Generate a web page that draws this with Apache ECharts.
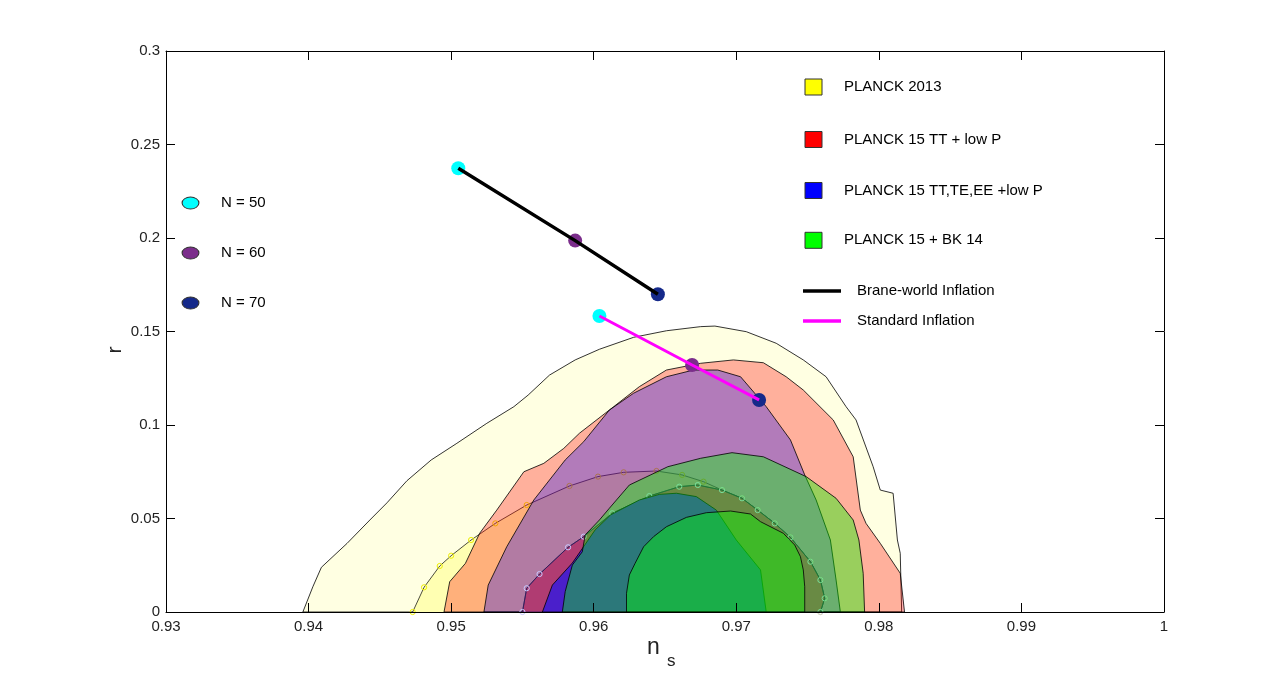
<!DOCTYPE html>
<html>
<head>
<meta charset="utf-8">
<script src="https://cdn.jsdelivr.net/npm/echarts@6/dist/echarts.min.js"></script>
<style>
  html, body { margin: 0; padding: 0; background: #fff; }
  #chart { width: 1286px; height: 688px; }
</style>
</head>
<body>
<div id="chart"></div>
<script>
// axis ticks
var xTicks = [0.93, 0.94, 0.95, 0.96, 0.97, 0.98, 0.99, 1];
var yTicks = [0, 0.05, 0.1, 0.15, 0.2, 0.25, 0.3];

// contour outlines [n_s, r]
var planck13Outer = [[0.9396,0],[0.9403,0.0135],[0.9409,0.0239],[0.9427,0.0367],[0.9443,0.0492],[0.9455,0.0584],
  [0.9469,0.0702],[0.9486,0.0813],[0.9504,0.0902],[0.9525,0.1009],[0.9544,0.1098],[0.9554,0.1160],[0.9569,0.1267],
  [0.9587,0.1348],[0.9604,0.1405],[0.9628,0.1469],[0.9651,0.1504],[0.9675,0.1526],[0.9685,0.1529],[0.9707,0.1499],
  [0.9728,0.1437],[0.9747,0.1348],[0.9763,0.1258],[0.9777,0.1098],[0.9784,0.1027],[0.9796,0.0777],[0.9801,0.0652],
  [0.9810,0.0635],[0.9813,0.0385],[0.9815,0.0314],[0.9816,0]];
var planck13Inner = [[0.9473,0],[0.9481,0.0132],[0.9492,0.0246],[0.9500,0.0301],[0.9514,0.0385],[0.9531,0.0474],
  [0.9553,0.0572],[0.9583,0.0674],[0.9603,0.0724],[0.9621,0.0747],[0.9644,0.0754],[0.9662,0.0733],[0.9677,0.0697],
  [0.9690,0.0652],[0.9704,0.0608],[0.9715,0.0545],[0.9727,0.0474],[0.9738,0.0399],[0.9752,0.0269],[0.9759,0.0171],
  [0.9762,0.0073],[0.9759,0]];
var ttOuter = [[0.9495,0],[0.9499,0.0162],[0.9510,0.0260],[0.9520,0.0421],[0.9532,0.0545],[0.9551,0.0750],
  [0.9565,0.0795],[0.9579,0.0875],[0.9590,0.0956],[0.9614,0.1098],[0.9632,0.1205],[0.9651,0.1294],[0.9675,0.1330],
  [0.9698,0.1348],[0.9719,0.1333],[0.9735,0.1258],[0.9747,0.1187],[0.9768,0.1027],[0.9782,0.0830],[0.9787,0.0545],
  [0.9791,0.0474],[0.9801,0.0367],[0.9815,0.0207],[0.9818,0]];
var teeeOuter = [[0.9523,0],[0.9526,0.0144],[0.9539,0.0349],[0.9558,0.0599],[0.9580,0.0813],[0.9593,0.0911],
  [0.9611,0.1080],[0.9628,0.1170],[0.9651,0.1258],[0.9670,0.1294],[0.9687,0.1294],[0.9703,0.1258],[0.9721,0.1098],
  [0.9738,0.0920],[0.9748,0.0733],[0.9756,0.0599],[0.9766,0.0385],[0.9770,0.0171],[0.9773,0]];
var ttInner = [[0.9550,0],[0.9553,0.0127],[0.9562,0.0203],[0.9582,0.0346],[0.9593,0.0403],[0.9613,0.0528],
  [0.9639,0.0620],[0.9660,0.0670],[0.9673,0.0679],[0.9690,0.0652],[0.9704,0.0608],[0.9715,0.0545],[0.9727,0.0474],
  [0.9738,0.0399],[0.9752,0.0269],[0.9759,0.0171],[0.9762,0.0073],[0.9759,0]];
var teeeInner = [[0.9564,0],[0.9571,0.0144],[0.9585,0.0262],[0.9601,0.0439],[0.9612,0.0520],[0.9632,0.0599],
  [0.9646,0.0629],[0.9658,0.0635],[0.9672,0.0617],[0.9686,0.0545],[0.9700,0.0385],[0.9717,0.0225],[0.9721,0]];
var bkOuter = [[0.9578,0],[0.9580,0.0109],[0.9585,0.0251],[0.9592,0.0322],[0.9594,0.0412],[0.9604,0.0492],
  [0.9611,0.0555],[0.9625,0.0679],[0.9652,0.0777],[0.9675,0.0822],[0.9697,0.0852],[0.9719,0.0830],[0.9749,0.0724],
  [0.9770,0.0608],[0.9782,0.0492],[0.9786,0.0385],[0.9789,0.0207],[0.9790,0]];
var bkInner = [[0.9623,0],[0.9623,0.0100],[0.9625,0.0198],[0.9629,0.0260],[0.9635,0.0349],[0.9642,0.0403],
  [0.9651,0.0456],[0.9665,0.0506],[0.9679,0.0531],[0.9696,0.0540],[0.9710,0.0524],[0.9717,0.0483],[0.9733,0.0421],
  [0.9741,0.0358],[0.9745,0.0296],[0.9747,0.0225],[0.9748,0.0135],[0.9748,0]];

// model predictions for N = 50, 60, 70
var nLabels = ['N = 50', 'N = 60', 'N = 70'];
var nColors = ['#00FFFF', '#7B2D8B', '#15298A'];
var braneNs = [0.9505, 0.9587, 0.9645];
var braneR = [0.2373, 0.1986, 0.1699];
var stdNs = [0.9604, 0.9669, 0.9716];
var stdR = [0.1583, 0.1321, 0.1134];

var legendNames = ['PLANCK 2013', 'PLANCK 15 TT + low P', 'PLANCK 15 TT,TE,EE +low P', 'PLANCK 15 + BK 14'];
var legendColors = ['#FFFF00', '#FF0000', '#0000FF', '#00FF00'];
var lineNames = ['Brane-world Inflation', 'Standard Inflation'];
var lineColors = ['#000000', '#FF00FF'];

var FONT = 'Liberation Sans, Arial, Helvetica, sans-serif';

function area(name, pts, fill, stroke, z, markColor) {
  return {
    type: 'custom', name: name, z: z, silent: true,
    data: pts, encode: { x: 0, y: 1 },
    renderItem: function (params, api) {
      if (params.dataIndex !== 0) return;
      var c = pts.map(function (p) { return api.coord(p); });
      var kids = [];
      if (fill) {
        kids.push({ type: 'polygon', shape: { points: c },
          style: { fill: fill, stroke: markColor ? null : stroke, lineWidth: 0.8 } });
      }
      if (markColor) {
        kids.push({ type: 'polyline', shape: { points: c }, style: { fill: null, stroke: stroke, lineWidth: 0.7 } });
        c.forEach(function (q) {
          kids.push({ type: 'circle', shape: { cx: q[0], cy: q[1], r: 2.6 },
            style: { fill: null, stroke: markColor, lineWidth: 1 } });
        });
      }
      return { type: 'group', children: kids };
    }
  };
}

function pairs(xs, ys) { return xs.map(function (x, i) { return [x, ys[i]]; }); }

var dotStyle = { opacity: 1, color: function (p) { return nColors[p.dataIndex]; } };

var series = [
  area('y95', planck13Outer, '#FFFFE2', '#000', 2),
  area('y68', planck13Inner, '#FFFFB2', null, 3),
  area('y68edge', planck13Inner, null, '#000', 4, '#EEEE00'),
  area('r95', ttOuter, 'rgba(255,0,0,0.31)', '#000', 5),
  area('b95', teeeOuter, 'rgba(0,0,255,0.3)', '#000', 6),
  area('c1', ttInner, '#B03C72', '#2B1B5A', 7),
  area('c1edge', ttInner, null, '#2B1B5A', 8, '#C8C8FF'),
  area('c2', teeeInner, '#4A1FCB', '#000', 9),
  area('g95', bkOuter, 'rgba(0,255,0,0.4)', '#000', 10),
  area('g68', bkInner, 'rgba(0,255,0,0.4)', '#000', 11),
  { type: 'scatter', z: 20, symbolSize: 14, data: pairs(braneNs, braneR), itemStyle: dotStyle },
  { type: 'scatter', z: 20, symbolSize: 14, data: pairs(stdNs, stdR), itemStyle: dotStyle },
  { type: 'line', z: 21, symbol: 'none', data: pairs(braneNs, braneR), lineStyle: { color: lineColors[0], width: 3.5 } },
  { type: 'line', z: 21, symbol: 'none', data: pairs(stdNs, stdR), lineStyle: { color: lineColors[1], width: 3 } }
];

var graphic = [];
legendNames.forEach(function (n, i) {
  var cy = [87, 139.5, 190.5, 240.3][i];
  graphic.push({ type: 'rect', shape: { x: 805, y: cy - 8, width: 17, height: 16 },
    style: { fill: legendColors[i], stroke: '#333', lineWidth: 1 }, z: 100 });
  graphic.push({ type: 'text', x: 844, y: cy, z: 100,
    style: { text: n, fontSize: 15, fontFamily: FONT, fill: '#000', textVerticalAlign: 'middle', verticalAlign: 'middle' } });
});
lineNames.forEach(function (n, i) {
  var cy = [291, 321][i];
  graphic.push({ type: 'line', shape: { x1: 803, y1: cy, x2: 841, y2: cy },
    style: { stroke: lineColors[i], lineWidth: 3.5 }, z: 100 });
  graphic.push({ type: 'text', x: 857, y: cy, z: 100,
    style: { text: n, fontSize: 15, fontFamily: FONT, fill: '#000', textVerticalAlign: 'middle', verticalAlign: 'middle' } });
});
nLabels.forEach(function (n, i) {
  var cy = [203, 253, 303][i];
  graphic.push({ type: 'circle', x: 190.5, y: cy, scaleX: 1.4, shape: { cx: 0, cy: 0, r: 6 },
    style: { fill: nColors[i], stroke: '#333', lineWidth: 0.8 }, z: 100 });
  graphic.push({ type: 'text', x: 221, y: cy, z: 100,
    style: { text: n, fontSize: 15, fontFamily: FONT, fill: '#000', textVerticalAlign: 'middle', verticalAlign: 'middle' } });
});
// axis names
graphic.push({ type: 'text', x: 647, y: 648, z: 100,
  style: { text: 'n', fontSize: 23, fontFamily: FONT, fill: '#222', textVerticalAlign: 'middle', verticalAlign: 'middle' } });
graphic.push({ type: 'text', x: 667, y: 661, z: 100,
  style: { text: 's', fontSize: 17, fontFamily: FONT, fill: '#222', textVerticalAlign: 'middle', verticalAlign: 'middle' } });
graphic.push({ type: 'text', x: 115, y: 350, rotation: Math.PI / 2, z: 100,
  style: { text: 'r', fontSize: 21, fontFamily: FONT, fill: '#222', textAlign: 'center', align: 'center',
    textVerticalAlign: 'middle', verticalAlign: 'middle' } });

function fmt(v) { return String(+v.toFixed(2)); }

var axisBase = {
  type: 'value',
  axisLine: { show: true, onZero: false, lineStyle: { color: '#000', width: 1 } },
  axisTick: { show: true, inside: true, length: 9, lineStyle: { color: '#000' } },
  splitLine: { show: false },
  z: 50
};

var chart = echarts.init(document.getElementById('chart'), null, { renderer: 'canvas' });
chart.setOption({
  animation: false,
  backgroundColor: '#fff',
  grid: { left: 166, right: 122, top: 51, bottom: 76 },
  xAxis: [
    Object.assign({}, axisBase, {
      position: 'bottom', min: xTicks[0], max: xTicks[xTicks.length - 1], interval: 0.01,
      axisLabel: { formatter: fmt, fontSize: 15, fontFamily: FONT, color: '#222', margin: 7 }
    }),
    Object.assign({}, axisBase, {
      position: 'top', min: xTicks[0], max: xTicks[xTicks.length - 1], interval: 0.01,
      axisLabel: { show: false }
    })
  ],
  yAxis: [
    Object.assign({}, axisBase, {
      position: 'left', min: yTicks[0], max: yTicks[yTicks.length - 1], interval: 0.05,
      axisLabel: { formatter: fmt, fontSize: 15, fontFamily: FONT, color: '#222', margin: 6 }
    }),
    Object.assign({}, axisBase, {
      position: 'right', min: yTicks[0], max: yTicks[yTicks.length - 1], interval: 0.05,
      axisLabel: { show: false }
    })
  ],
  graphic: graphic,
  series: series
});
</script>
</body>
</html>
